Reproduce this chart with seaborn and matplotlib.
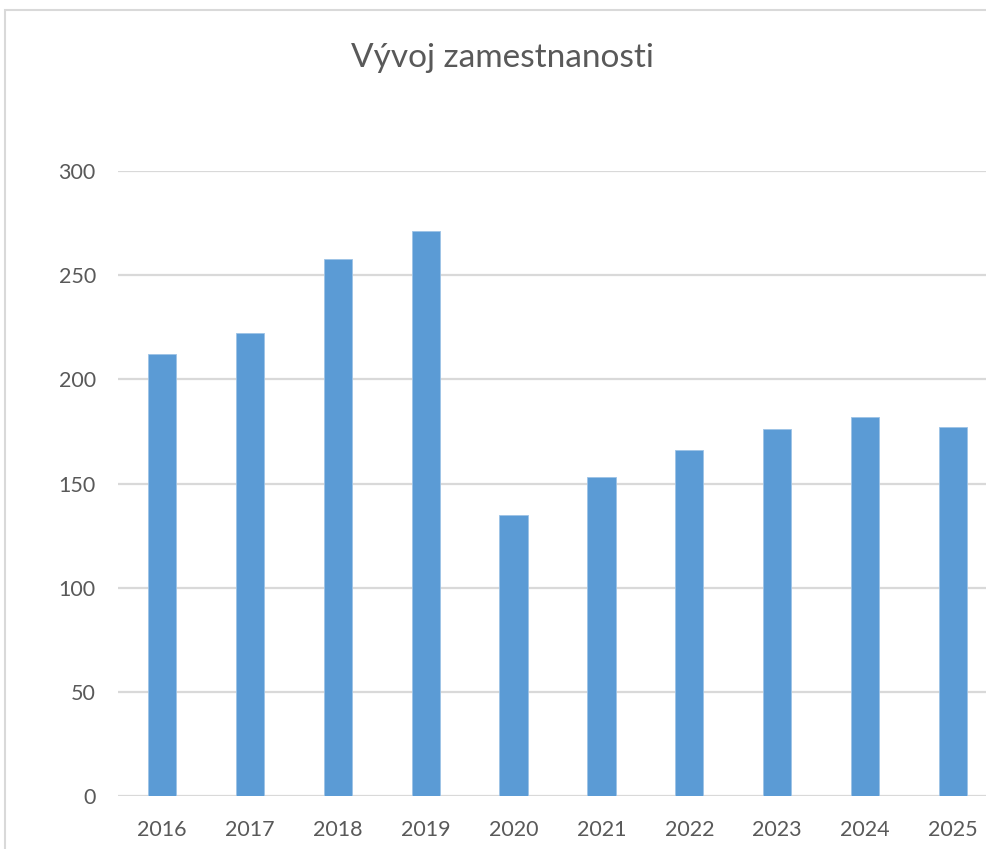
import matplotlib
matplotlib.use("Agg")
import matplotlib.pyplot as plt
import seaborn as sns
from matplotlib.patches import Rectangle

years = ["2016", "2017", "2018", "2019", "2020", "2021", "2022", "2023", "2024", "2025"]
employment = [212, 222, 258, 271, 135, 153, 166, 176, 182, 177]
yticks = [0, 50, 100, 150, 200, 250, 300]
title = "Vývoj zamestnanosti"

sns.set_style("white")
plt.rcParams["font.family"] = ["Liberation Sans Narrow", "Lato", "DejaVu Sans"]

text_color = "#595959"
grid_color = "#d9d9d9"

fig = plt.figure(figsize=(9.87, 8.49), dpi=100)
# chart frame (cropped on the right and bottom like the source screenshot)
fig.patches.append(Rectangle((5 / 987, -0.1), 1.2, (839 + 0.1 * 849) / 849,
                             transform=fig.transFigure, fill=False,
                             edgecolor=grid_color, linewidth=1.5))

ax = fig.add_axes([118 / 987, 53 / 849, 879 / 987, 625 / 849])
sns.barplot(x=years, y=employment, color="#5B9BD5", width=0.32,
            saturation=1, edgecolor="#9dc3e6", linewidth=0.6, ax=ax, zorder=3)

ax.set_ylim(0, 300)
ax.set_yticks(yticks)
ax.yaxis.grid(True, color=grid_color, linewidth=1.6, zorder=0)
ax.set_axisbelow(True)
for s in ax.spines.values():
    s.set_visible(False)
ax.tick_params(axis="both", length=0, labelsize=15.5, colors=text_color)
ax.tick_params(axis="y", pad=16)
ax.tick_params(axis="x", pad=17)
ax.set_xlabel("")
ax.set_ylabel("")

fig.text(502 / 987, 1 - 58 / 849, title, ha="center", va="center",
         fontsize=24, color=text_color)

fig.savefig("out.png", dpi=100)
